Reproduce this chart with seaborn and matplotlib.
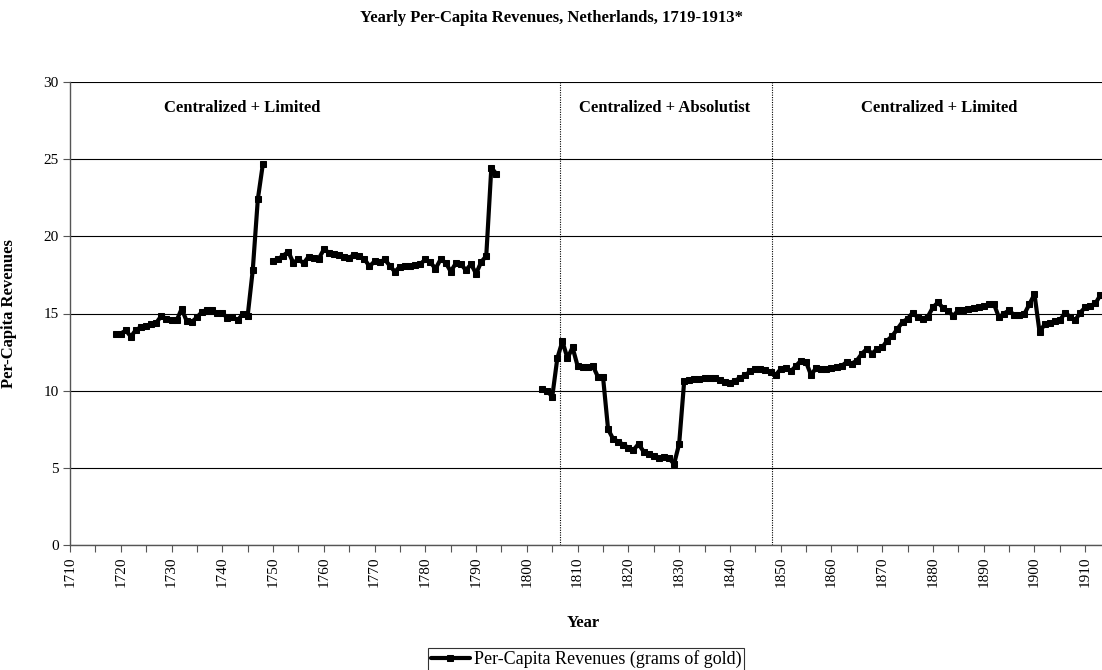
import numpy as np
import pandas as pd
import matplotlib
matplotlib.use("Agg")
from matplotlib import pyplot as plt
import seaborn as sns

# Yearly per-capita revenues (grams of gold)
years_a = list(range(1719, 1749))
rev_a = [13.67, 13.7, 13.9, 13.5, 13.95, 14.1, 14.2, 14.3, 14.4, 14.85,
         14.65, 14.55, 14.55, 15.3, 14.5, 14.45, 14.75, 15.1, 15.25, 15.2,
         15.05, 15.05, 14.7, 14.8, 14.55, 14.95, 14.85, 17.8, 22.4, 24.7]

years_b = list(range(1750, 1795))
rev_b = [18.43, 18.53, 18.75, 19.0, 18.28, 18.53, 18.25, 18.68, 18.62, 18.55,
         19.15, 18.95, 18.88, 18.82, 18.65, 18.6, 18.82, 18.72, 18.53, 18.05,
         18.38, 18.32, 18.5, 18.1, 17.7, 18.04, 18.1, 18.1, 18.14, 18.2,
         18.5, 18.32, 17.9, 18.5, 18.3, 17.72, 18.25, 18.21, 17.8, 18.2,
         17.58, 18.34, 18.72, 24.45, 24.04]

years_c = list(range(1803, 1914))
rev_c = [10.1, 10.0, 9.6, 12.1, 13.2, 12.1, 12.8, 11.6, 11.55, 11.55,
         11.6, 10.9, 10.9, 7.5, 6.87, 6.7, 6.5, 6.3, 6.15, 6.55,
         6.05, 5.9, 5.78, 5.65, 5.7, 5.62, 5.25, 6.55, 10.65, 10.7,
         10.73, 10.76, 10.8, 10.85, 10.85, 10.7, 10.55, 10.5, 10.65, 10.82,
         11.0, 11.25, 11.4, 11.38, 11.33, 11.2, 11.0, 11.4, 11.45, 11.25,
         11.6, 11.95, 11.85, 11.0, 11.5, 11.4, 11.4, 11.45, 11.55, 11.6,
         11.85, 11.75, 11.95, 12.4, 12.7, 12.4, 12.7, 12.8, 13.25, 13.55,
         14.0, 14.45, 14.65, 15.05, 14.75, 14.65, 14.8, 15.4, 15.72, 15.35,
         15.15, 14.85, 15.2, 15.23, 15.3, 15.35, 15.4, 15.5, 15.6, 15.62,
         14.75, 15.0, 15.2, 14.9, 14.9, 14.97, 15.6, 16.25, 13.8, 14.3,
         14.4, 14.5, 14.55, 15.05, 14.8, 14.55, 15.05, 15.4, 15.5, 15.65,
         16.2]

regime_breaks = [1806.5, 1848.3]
regime_names = ["Centralized + Limited", "Centralized + Absolutist", "Centralized + Limited"]
regime_label_x = [1744, 1827.2, 1881.2]

y_ticks = [0, 5, 10, 15, 20, 25, 30]
x_ticks = list(range(1710, 1915, 5))
x_tick_labels = [str(t) if t % 10 == 0 else "" for t in x_ticks]

# Build one long table, segment id keeps the gaps unconnected
df = pd.concat([
    pd.DataFrame({"year": years_a, "revenue": rev_a, "segment": 0}),
    pd.DataFrame({"year": years_b, "revenue": rev_b, "segment": 1}),
    pd.DataFrame({"year": years_c, "revenue": rev_c, "segment": 2}),
])

sns.set_style("white")
plt.rcParams["font.family"] = ["Liberation Serif", "DejaVu Serif"]
plt.rcParams["text.color"] = "black"
plt.rcParams["axes.labelcolor"] = "black"
plt.rcParams["xtick.color"] = "black"
plt.rcParams["ytick.color"] = "black"

W, H = 1102, 670
fig = plt.figure(figsize=(W / 100, H / 100), dpi=100)
ax = fig.add_axes([70 / W, 125 / H, 1032 / W, 463 / H])

sns.lineplot(data=df, x="year", y="revenue", units="segment", estimator=None,
             color="black", linewidth=3.0, marker="s", markersize=5,
             markeredgecolor="black", label="Per-Capita Revenues (grams of gold)",
             ax=ax)

ax.set_xlim(1710, 1913.3)
ax.set_ylim(0, 30)

ax.set_yticks(y_ticks)
ax.set_xticks(x_ticks)
ax.set_xticklabels(x_tick_labels, rotation=90)
ax.tick_params(axis="both", direction="out", length=5, width=0.8, color="#555555",
               labelcolor="black", labelsize=11, pad=3, left=True, bottom=True)

ax.yaxis.grid(True, color="black", linewidth=0.8)
ax.xaxis.grid(False)
ax.set_axisbelow(True)
for side in ["top", "right"]:
    ax.spines[side].set_visible(False)
for side in ["left", "bottom"]:
    ax.spines[side].set_color("#555555")
    ax.spines[side].set_linewidth(1.0)

for xb in regime_breaks:
    ax.axvline(xb, color="black", linewidth=0.8, linestyle=(0, (1, 1.2)))

for xl, name in zip(regime_label_x, regime_names):
    ax.text(xl, 28.3, name, ha="center", va="center", fontsize=12, fontweight="bold")

ax.set_xlabel("Year", fontsize=12, fontweight="bold")
ax.set_ylabel("Per-Capita Revenues", fontsize=12, fontweight="bold")
ax.xaxis.set_label_coords(0.497, -0.151)
ax.yaxis.set_label_coords(-0.051, 0.5)

fig.text(0.5, 1 - 18 / H, "Yearly Per-Capita Revenues, Netherlands, 1719-1913*",
         ha="center", va="center", fontsize=12, fontweight="bold")

handles, labels = ax.get_legend_handles_labels()
leg = ax.legend(handles[:1], labels[:1], loc="upper center",
                bbox_to_anchor=(0.5, -0.222), frameon=True, fancybox=False,
                fontsize=13, handlelength=2.2, handletextpad=0.2,
                borderpad=0.15, borderaxespad=0)
leg.get_frame().set_edgecolor("black")
leg.get_frame().set_linewidth(0.8)

fig.savefig("out.png", dpi=100)
